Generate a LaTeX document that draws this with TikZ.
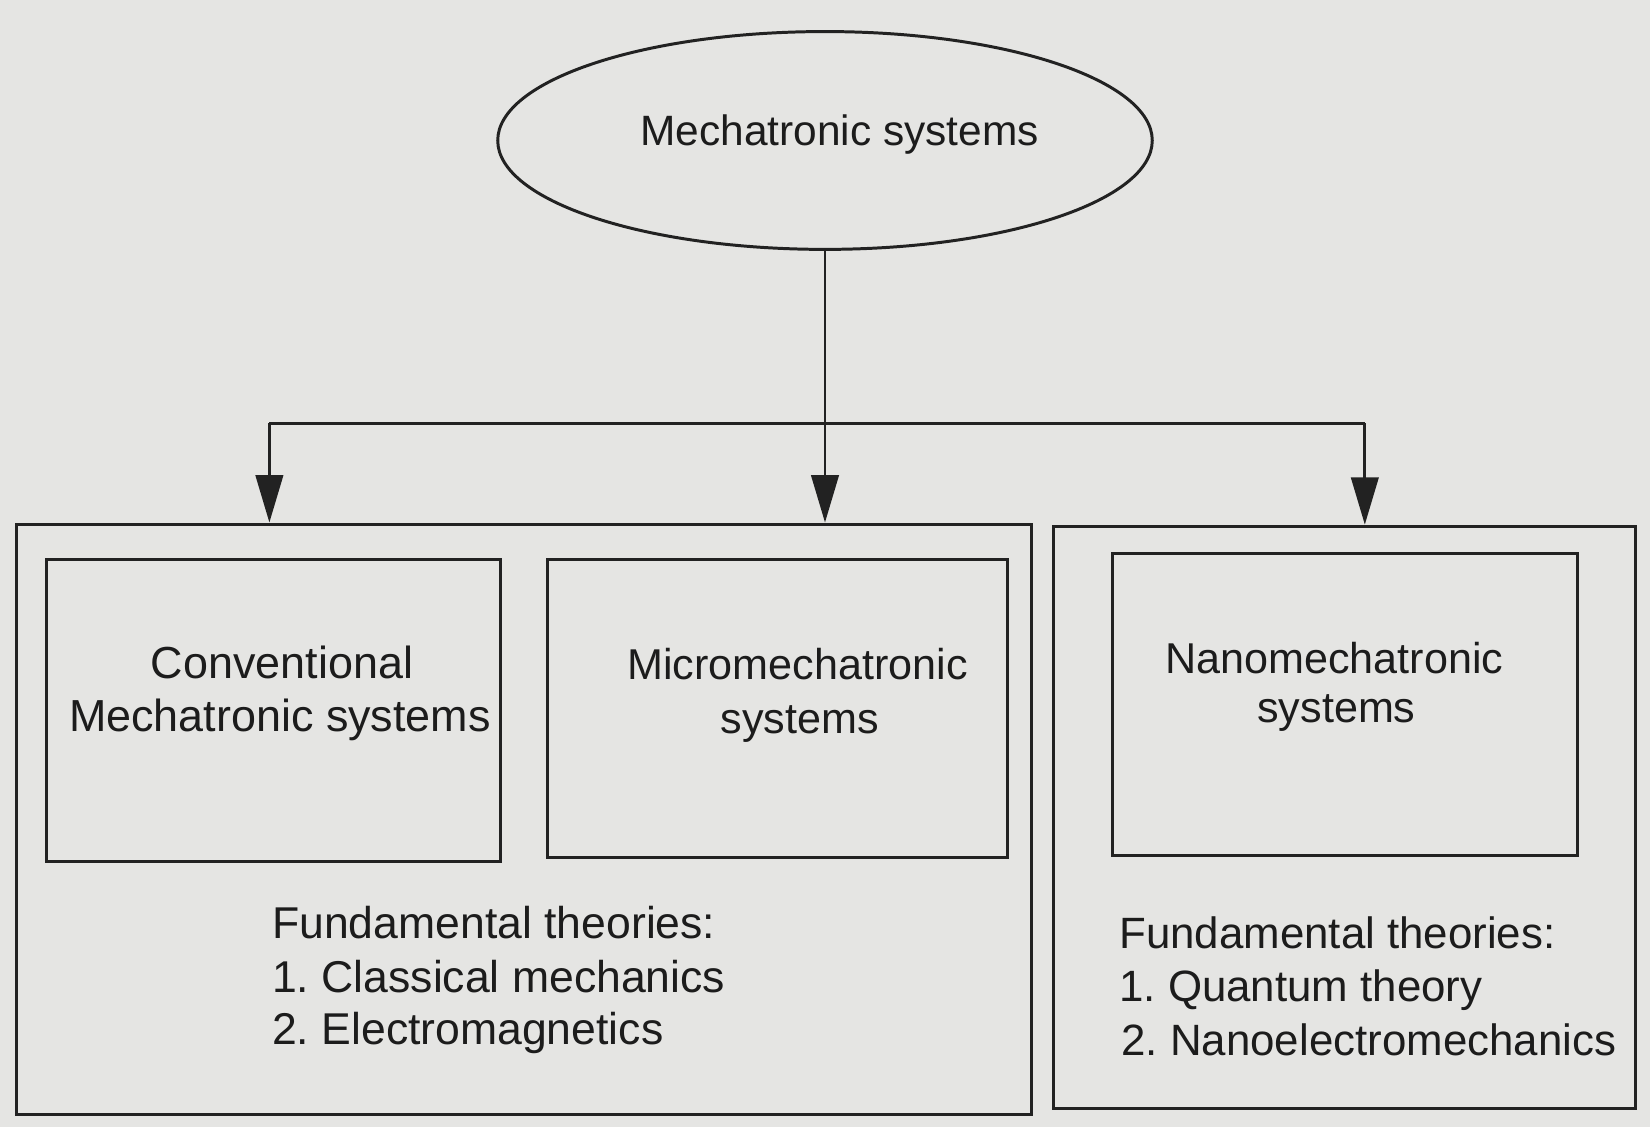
\documentclass[tikz,border=0pt]{standalone}
\usepackage{fontspec}
\setmainfont{Liberation Sans}
\usetikzlibrary{arrows.meta,shapes.geometric,fit}
\frenchspacing
\definecolor{paper}{RGB}{229,229,227}
\definecolor{ink}{RGB}{34,34,34}
\definecolor{textink}{RGB}{28,28,28}
\tikzset{
  box/.style={draw=ink, line width=0.85pt, inner sep=0pt},
  oval/.style={ellipse, draw=ink, line width=0.85pt, inner sep=0pt},
  link/.style={draw=ink, line width=0.85pt},
  arr/.style={link, -{Triangle[length=13.5pt,width=7.8pt]}},
  lbl/.style={anchor=base, inner sep=0pt, text=textink},
  lbll/.style={anchor=base west, inner sep=0pt, text=textink},
  szA/.style={font=\fontsize{12.1pt}{14.5pt}\selectfont},
  szB/.style={font=\fontsize{12.8pt}{15pt}\selectfont},
  szC/.style={font=\fontsize{12.3pt}{15pt}\selectfont},
  szD/.style={font=\fontsize{12.7pt}{15pt}\selectfont},
  szE/.style={font=\fontsize{12.5pt}{15pt}\selectfont},
}
\begin{document}
\begin{tikzpicture}[x=0.3pt, y=-0.3pt]
  % paper
  \fill[paper] (0,0) rectangle (1568,1071);
  \useasboundingbox (0,0) rectangle (1568,1071);

  % top level
  \node[oval, minimum width=622*0.3pt, minimum height=207*0.3pt] (top) at (784,133.5) {};
  \node[lbl, szA] (toptext) at (798,138) {Mechatronic systems};

  % outer groups
  \node[box, fit={(16,498) (980,1059)}] (outerL) {};
  \node[box, fit={(1001,500) (1554,1053)}] (outerR) {};

  % inner boxes
  \node[box, fit={(44,532) (476,819)}] (conv) {};
  \node[box, fit={(520,532) (957,815)}] (micro) {};
  \node[box, fit={(1057,526) (1499,813)}] (nano) {};

  % box labels
  \node[lbl, szB] (conv1) at (268,644.5) {Conventional};
  \node[lbl, szB] (conv2) at (266,695.5) {Mechatronic systems};
  \node[lbl, szC] (micro1) at (758,646) {Micromechatronic};
  \node[lbl, szC] (micro2) at (760,697) {systems};
  \node[lbl, szC] (nano1) at (1268,640) {Nanomechatronic};
  \node[lbl, szC] (nano2) at (1270,687) {systems};

  % fundamental theories
  \node[lbll, szD] (ftL0) at (258,892) {Fundamental theories:};
  \node[lbll, szD] (ftL1) at (258,943) {1. Classical mechanics};
  \node[lbll, szD] (ftL2) at (258,993) {2. Electromagnetics};
  \node[lbll, szE] (ftR0) at (1063,901) {Fundamental theories:};
  \node[lbll, szE] (ftR1) at (1063,952) {1. Quantum theory};
  \node[lbll, szE] (ftR2) at (1065,1003) {2. Nanoelectromechanics};

  % connectors
  \coordinate (jL) at (256,402);
  \coordinate (jR) at (1297,402);
  \draw[link] (jL) -- (jR);
  \draw[arr] (top.south) -- (top.south |- outerL.north);
  \draw[arr] (jL) -- (jL |- outerL.north);
  \draw[arr] (jR) -- (jR |- outerR.north);
\end{tikzpicture}
\end{document}
